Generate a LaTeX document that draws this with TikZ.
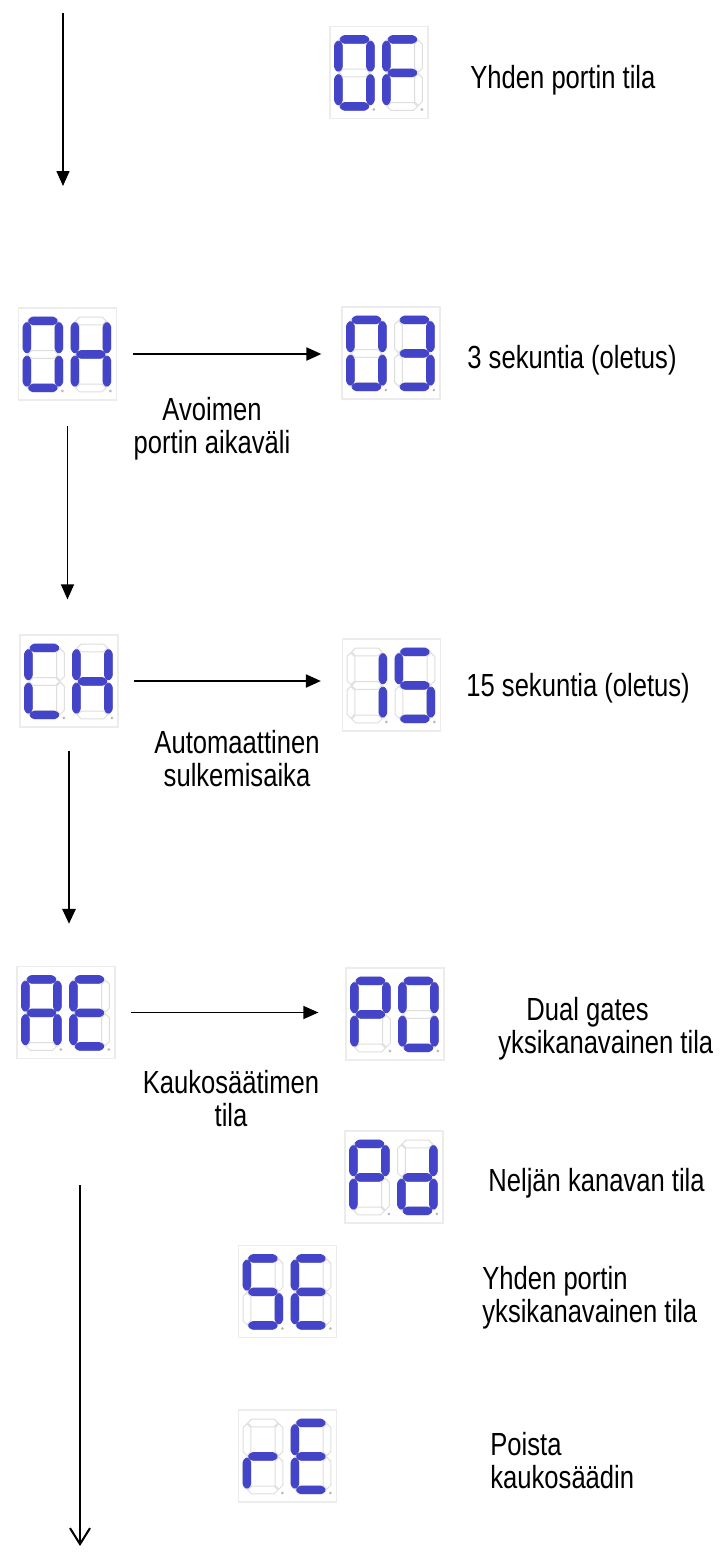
\documentclass[tikz,border=0pt]{standalone}
\usepackage{fontspec}
\setmainfont{Liberation Sans}[FakeStretch=0.8]
\usetikzlibrary{arrows.meta}

\definecolor{segblue}{RGB}{68,68,200}
\definecolor{seggray}{RGB}{222,222,222}
\definecolor{boxgray}{RGB}{236,236,236}

\tikzset{
	dispbox/.style={rectangle, draw=boxgray, fill=white, line width=0.6pt, minimum width=49pt, minimum height=46pt, inner sep=0pt},
	segon/.style={fill=segblue, draw=segblue, line width=0.4pt, line join=round, rounded corners=0.8pt},
	segoff/.style={fill=white, draw=seggray, line width=0.5pt},
	segdot/.style={fill=gray!55},
	lbl/.style={font=\fontsize{16pt}{16.5pt}\selectfont, inner sep=0pt},
	flow/.style={-{Triangle[length=7.5pt,width=6.5pt]}, line width=1pt},
}

% one segment, horizontal or vertical
\newcommand{\hseg}[3]{\path[segcur] ({#1+0.8},#3) -- ({#1+4.7},{#3-3.9}) -- ({#2-4.7},{#3-3.9}) -- ({#2-0.8},#3) -- ({#2-4.7},{#3+3.9}) -- ({#1+4.7},{#3+3.9}) -- cycle;}
\newcommand{\vseg}[3]{\path[segcur] (#1,{#2+0.8}) -- ({#1+3.9},{#2+4.7}) -- ({#1+3.9},{#3-4.7}) -- (#1,{#3-0.8}) -- ({#1-3.9},{#3-4.7}) -- ({#1-3.9},{#2+4.7}) -- cycle;}
\def\sga{\hseg{0}{32}{0}}
\def\sgb{\vseg{32}{0}{33.5}}
\def\sgc{\vseg{32}{33.5}{67}}
\def\sgd{\hseg{0}{32}{67}}
\def\sge{\vseg{0}{33.5}{67}}
\def\sgf{\vseg{0}{0}{33.5}}
\def\sgg{\hseg{0}{32}{33.5}}

\newcommand{\Digit}[2]{%
	\begin{scope}[shift={#1}]
		\begin{scope}[segcur/.style=segoff]
			\foreach \seg in {a,b,c,d,e,f,g}{\csname sg\seg\endcsname}
		\end{scope}
		\begin{scope}[segcur/.style=segon]
			\foreach \seg in {#2}{\csname sg\seg\endcsname}
		\end{scope}
		\fill[segdot] (35.5,70) circle (1.5);
	\end{scope}}

\newcommand{\Display}[4]{%
	\node[dispbox] (#1) at (#2) {};
	\begin{scope}[shift={(#1.north west)}]
		\Digit{(9,13.5)}{#3}
		\Digit{(57,13.5)}{#4}
	\end{scope}}

\begin{document}
\begin{tikzpicture}[x=0.5pt, y=-0.5pt]
	\path[fill=white, use as bounding box] (0,0) rectangle (726,1554);
		\Display{dOF}{379,72.5}{a,b,c,d,e,f}{a,e,f,g}
		\Display{dOH}{67.5,354}{a,b,c,d,e,f}{b,c,e,f,g}
		\Display{d03}{391,353}{a,b,c,d,e,f}{a,b,c,d,g}
		\Display{dCH}{69,681}{a,d,e,f}{b,c,e,f,g}
		\Display{d15}{391.5,685}{b,c}{a,c,d,f,g}
		\Display{dAE}{66,1012.5}{a,b,c,e,f,g}{a,d,e,f,g}
		\Display{dP0}{395,1014}{a,b,e,f,g}{a,b,c,d,e,f}
		\Display{dPd}{394,1177}{a,b,e,f,g}{b,c,d,e,g}
		\Display{dSE}{287.5,1291.5}{a,c,d,f,g}{a,d,e,f,g}
		\Display{drE}{287.5,1456}{e,g}{a,d,e,f,g}

		\node[lbl, anchor=west] (tOF) at (470,80) {Yhden portin tila};
		\node[lbl, anchor=west] (t03) at (467,360) {3 sekuntia (oletus)};
		\node[lbl, anchor=west] (t15) at (466,688) {15 sekuntia (oletus)};
		\node[lbl, anchor=west, align=left] (tP0) at (498,1029) {\hspace*{14pt}Dual gates\\yksikanavainen tila};
		\node[lbl, anchor=west] (tPd) at (488,1183) {Neljän kanavan tila};
		\node[lbl, anchor=west, align=left] (tSE) at (482,1298) {Yhden portin\\yksikanavainen tila};
		\node[lbl, anchor=west, align=left] (trE) at (490,1461) {Poista\\kaukosäädin};
		\node[lbl, align=center] (tOH) at (212,429) {Avoimen\\portin aikaväli};
		\node[lbl, align=center] (tCH) at (237,759) {Automaattinen\\sulkemisaika};
		\node[lbl, align=center] (tAE) at (231,1099) {Kaukosäätimen\\tila};

		\coordinate (in1) at (63,13);
		\coordinate (in2) at (63,186);
		\coordinate (out1) at (80,1185);
		\coordinate (out2) at (80,1546);
		\draw[flow, line width=0.75pt] (in1) -- (in2);
		\draw[flow, shorten <=8pt, shorten >=10pt] (dOH.east) -- (dOH.east -| d03.west);
		\draw[flow, shorten <=7.5pt, shorten >=10.5pt] (dCH.east) -- (dCH.east -| d15.west);
		\draw[flow, line width=0.7pt, shorten <=7.5pt, shorten >=13.5pt] (dAE.east) -- (dAE.east -| dP0.west);
		\draw[flow, line width=0.6pt, shorten <=12.5pt, shorten >=17.5pt] (dOH.south) -- (dOH.south |- dCH.north);
		\draw[flow, line width=1.4pt, shorten <=11.5pt, shorten >=21pt] (dCH.south) -- (dCH.south |- dAE.north);
	%	\draw[flow] (dAE.south) -- (dAE.south |- drE.south);
		\draw[-{Straight Barb[length=8pt,width=10pt]}, line width=1pt] (out1) -- (out2);
	\end{tikzpicture}
\end{document}
